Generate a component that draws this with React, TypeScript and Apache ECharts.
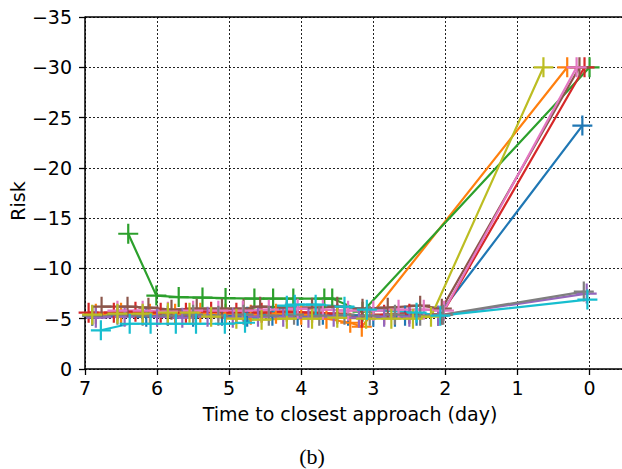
import React, { useEffect, useRef } from "react";
import * as echarts from "echarts";

const X_TICKS_MIN = -0.45;
const X_TICKS_MAX = 7;
const Y_MIN = -35;
const Y_MAX = 0;

const xLabel = "Time to closest approach (day)";
const yLabel = "Risk";
const caption = "(b)";

const colors = ["#1f77b4", "#ff7f0e", "#2ca02c", "#d62728", "#9467bd", "#8c564b", "#e377c2", "#7f7f7f", "#bcbd22", "#17becf"];

const blueDays = [6.9, 6.5, 6.15, 5.85, 5.5, 5.1, 4.75, 4.4, 4.05, 3.7, 3.35, 3.0, 2.7, 2.56, 2.4, 2.1, 0.1];
const blueRisk = [-5.3, -5.3, -5.2, -5.3, -5.2, -5.3, -5.2, -5.3, -5.3, -5.4, -5.3, -5.2, -5.2, -5.3, -5.3, -5.3, -24.2];

const orangeDays = [6.85, 6.5, 6.1, 5.75, 5.4, 5.05, 4.7, 4.35, 4.0, 3.65, 3.32, 3.16, 0.31];
const orangeRisk = [-5.5, -5.6, -5.5, -5.5, -5.6, -5.5, -5.4, -5.5, -5.4, -5.0, -4.6, -4.2, -30];

const greenDays = [6.4, 6.01, 5.7, 5.37, 5.05, 4.65, 4.39, 4.11, 3.68, 3.57, 3.15, 0.0];
const greenRisk = [-13.45, -7.3, -7.15, -7.1, -7.05, -7.0, -7.0, -7.0, -7.0, -7.0, -5.7, -30];

const redDays = [6.95, 6.6, 6.3, 5.95, 5.6, 5.25, 4.9, 4.55, 4.2, 3.85, 3.5, 3.16, 2.85, 2.5, 2.05, 0.07];
const redRisk = [-5.6, -5.6, -5.7, -5.6, -5.6, -5.7, -5.6, -5.6, -5.7, -5.6, -5.5, -5.1, -5.4, -5.5, -5.4, -30];

const purpleDays = [6.85, 6.45, 6.0, 5.65, 5.3, 4.95, 4.6, 4.25, 3.9, 3.55, 3.2, 2.85, 2.5, 2.1, 0.04];
const purpleRisk = [-5.1, -5.2, -5.2, -5.1, -5.2, -5.1, -5.2, -5.2, -5.1, -5.2, -5.1, -5.2, -5.2, -5.3, -7.5];

const brownDays = [6.77, 6.41, 6.12, 5.8, 5.45, 5.1, 4.8, 4.57, 4.2, 3.85, 3.5, 3.15, 2.8, 2.35, 2.05, 0.14];
const brownRisk = [-6.2, -6.2, -6.1, -5.9, -6.0, -6.0, -6.0, -6.2, -6.1, -6.1, -6.2, -6.0, -6.1, -6.3, -6.0, -30];

const pinkDays = [6.55, 6.2, 5.85, 5.5, 5.15, 4.81, 4.45, 4.05, 3.7, 3.35, 3.0, 2.65, 2.3, 2.02, 0.18];
const pinkRisk = [-5.8, -5.8, -5.7, -5.8, -5.8, -5.8, -5.9, -6.0, -5.9, -5.8, -5.8, -5.9, -5.9, -5.8, -30];

const grayDays = [6.9, 6.55, 6.2, 5.85, 5.5, 5.15, 4.8, 4.45, 4.1, 3.75, 3.4, 3.05, 2.7, 2.35, 2.03, 0.08];
const grayRisk = [-5.3, -5.4, -5.3, -5.3, -5.4, -5.3, -5.4, -5.3, -5.4, -5.3, -5.4, -5.3, -5.4, -5.3, -5.4, -7.7];

const oliveDays = [6.9, 6.55, 6.2, 5.85, 5.55, 5.25, 4.9, 4.55, 4.2, 3.85, 3.5, 3.1, 2.75, 2.45, 2.2, 0.64];
const oliveRisk = [-5.4, -5.5, -5.5, -5.6, -5.6, -5.2, -5.0, -4.9, -5.0, -5.0, -5.1, -5.0, -5.0, -5.0, -5.2, -30];

const cyanDays = [6.78, 6.38, 6.09, 5.74, 5.46, 5.06, 4.78, 4.2, 4.09, 3.8, 3.4, 3.09, 2.4, 2.07, 0.03];
const cyanRisk = [-3.85, -4.5, -4.5, -4.5, -4.5, -4.5, -4.6, -6.3, -6.4, -6.4, -6.2, -5.9, -5.6, -5.3, -6.9];

const seriesDays = [blueDays, orangeDays, greenDays, redDays, purpleDays, brownDays, pinkDays, grayDays, oliveDays, cyanDays];
const seriesRisk = [blueRisk, orangeRisk, greenRisk, redRisk, purpleRisk, brownRisk, pinkRisk, grayRisk, oliveRisk, cyanRisk];

const PLUS = "path://M-1.1,-10H1.1V-1.1H10V1.1H1.1V10H-1.1V1.1H-10V-1.1H-1.1Z";
const FONT = "DejaVu Sans";

const fmt = (v: number) => (v < 0 ? "\u2212" + Math.abs(v) : String(v));

export default function App() {
  const ref = useRef<HTMLDivElement>(null);
  useEffect(() => {
    if (!ref.current) return;
    const chart = echarts.init(ref.current, null, { renderer: "svg" });
    const gridLeft = 85;
    const gridTop = 17;
    const gridBottom = 100;
    chart.setOption({
      animation: false,
      backgroundColor: "#fff",
      grid: {
        left: gridLeft,
        right: 0,
        top: gridTop,
        bottom: gridBottom,
        containLabel: false,
        outerBoundsMode: "none",
      },
      xAxis: {
        type: "value",
        inverse: true,
        min: X_TICKS_MIN,
        max: X_TICKS_MAX,
        minInterval: 1,
        maxInterval: 1,
        axisLine: { show: true, onZero: false, lineStyle: { color: "#000", width: 1.5 } },
        axisTick: { show: true, length: 6, lineStyle: { color: "#000", width: 1.3 } },
        axisLabel: {
          showMinLabel: false,
          margin: 9,
          color: "#000",
          fontSize: 19,
          fontFamily: FONT,
          formatter: fmt,
        },
        splitLine: { show: true, lineStyle: { color: "#222", width: 1, type: [2, 2] } },
      },
      yAxis: {
        type: "value",
        inverse: true,
        min: Y_MIN,
        max: Y_MAX,
        interval: 5,
        axisLine: { show: true, onZero: false, lineStyle: { color: "#000", width: 1.5 } },
        axisTick: { show: true, length: 6, lineStyle: { color: "#000", width: 1.3 } },
        axisLabel: { margin: 13, color: "#000", fontSize: 19, fontFamily: FONT, formatter: fmt },
        splitLine: { show: true, lineStyle: { color: "#222", width: 1, type: [2, 2] } },
      },
      graphic: [
        {
          type: "line",
          shape: { x1: gridLeft, y1: gridTop, x2: 622, y2: gridTop },
          style: { stroke: "#000", lineWidth: 1.5 },
          z: 100,
        },
        {
          type: "text",
          x: 350,
          y: 404,
          style: { text: xLabel, fill: "#000", font: `19px "${FONT}"`, textAlign: "center", textVerticalAlign: "top" },
        },
        {
          type: "text",
          x: 18,
          y: 201,
          rotation: Math.PI / 2,
          style: { text: yLabel, fill: "#000", font: `19px "${FONT}"`, textAlign: "center", textVerticalAlign: "middle" },
        },
        {
          type: "text",
          x: 312,
          y: 456,
          style: { text: caption, fill: "#000", font: `22px "Liberation Serif"`, textAlign: "center", textVerticalAlign: "middle" },
        },
      ],
      series: seriesDays.map((days, i) => ({
        type: "line",
        data: days.map((d, j) => [d, seriesRisk[i][j]]),
        symbol: PLUS,
        symbolSize: 20,
        showSymbol: true,
        showAllSymbol: true,
        color: colors[i],
        itemStyle: { color: colors[i] },
        lineStyle: { color: colors[i], width: 2.2 },
        clip: false,
      })),
    });
    return () => chart.dispose();
  }, []);
  return <div ref={ref} style={{ position: "fixed", left: 0, top: 0, width: 622, height: 469 }} />;
}
